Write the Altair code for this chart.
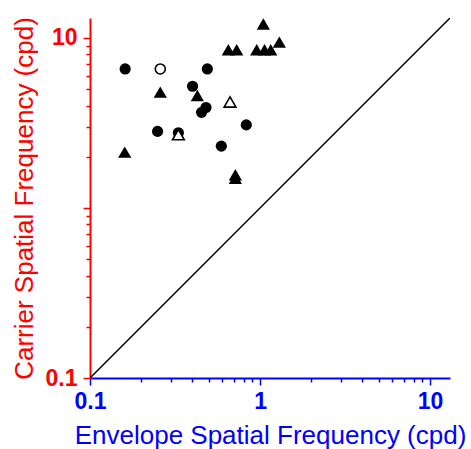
import altair as alt
import pandas as pd

# Filled circles (envelope SF, carrier SF), cpd
fc_x = [0.161, 0.490, 0.401, 0.481, 0.453, 0.830, 0.2496, 0.331, 0.592]
fc_y = [6.57, 6.57, 5.20, 3.90, 3.65, 3.08, 2.82, 2.77, 2.31]

# Open circles
oc_x = [0.259]
oc_y = [6.57]

# Filled triangles
ft_x = [0.259, 0.428, 0.160, 0.716, 0.716, 1.046, 0.651, 0.729, 0.956, 1.063, 1.156, 1.299]
ft_y = [4.80, 4.59, 2.13, 1.567, 1.495, 12.09, 8.53, 8.53, 8.53, 8.53, 8.53, 9.45]

# Open triangles
ot_x = [0.666, 0.331]
ot_y = [4.20, 2.70]

# Identity line and axis ranges
diag_vals = [0.1, 13.1]
major_ticks = [0.1, 1, 10]
minor_ticks = [0.2, 0.3, 0.4, 0.5, 0.6, 0.7, 0.8, 0.9, 2, 3, 4, 5, 6, 7, 8, 9]

RED = "#ff0000"
BLUE = "#0000ff"
FONT = "Liberation Sans"

xscale = alt.Scale(type="log", domain=diag_vals, nice=False)
yscale = alt.Scale(type="log", domain=diag_vals, nice=False)

x_major = alt.Axis(
    orient="bottom", values=major_ticks, format="~g", grid=False,
    tickSize=7, tickWidth=1.5, tickColor=BLUE,
    domainColor=BLUE, domainWidth=2,
    labelColor=BLUE, labelFont=FONT, labelFontSize=23, labelFontWeight="bold",
    labelPadding=5, labelFlush=False, labelOverlap=False,
    title="Envelope Spatial Frequency (cpd)", titleColor=BLUE, titleFont=FONT,
    titleFontSize=26, titleFontWeight="normal", titleX=180, titleY=65,
    titleBaseline="alphabetic", titleAlign="center",
)
x_minor = alt.Axis(
    orient="bottom", values=minor_ticks, grid=False, labels=False, domain=False,
    tickSize=4, tickWidth=1.5, tickColor=BLUE, title=None,
)
y_major = alt.Axis(
    orient="left", values=major_ticks, format="~g", grid=False,
    labelExpr="datum.value == 1 ? '' : datum.label",
    tickSize=7, tickWidth=1.5, tickColor=RED,
    domainColor=RED, domainWidth=2,
    labelColor=RED, labelFont=FONT, labelFontSize=23, labelFontWeight="bold",
    labelPadding=6, labelFlush=False, labelOverlap=False,
    title="Carrier Spatial Frequency (cpd)", titleColor=RED, titleFont=FONT,
    titleFontSize=26, titleFontWeight="normal", titleX=-58, titleY=180,
    titleAngle=270, titleBaseline="alphabetic", titleAlign="center",
)
y_minor = alt.Axis(
    orient="left", values=minor_ticks, grid=False, labels=False, domain=False,
    tickSize=4, tickWidth=1.5, tickColor=RED, title=None,
)

diag_df = pd.DataFrame({"x": diag_vals, "y": diag_vals})
fc_df = pd.DataFrame({"x": fc_x, "y": fc_y})
oc_df = pd.DataFrame({"x": oc_x, "y": oc_y})
ft_df = pd.DataFrame({"x": ft_x, "y": ft_y})
ot_df = pd.DataFrame({"x": ot_x, "y": ot_y})

diag = alt.Chart(diag_df).mark_line(color="black", strokeWidth=1.5, clip=True).encode(
    x=alt.X("x:Q", scale=xscale, axis=x_major),
    y=alt.Y("y:Q", scale=yscale, axis=y_major),
)

fc = alt.Chart(fc_df).mark_point(
    shape="circle", filled=True, color="black", size=125, opacity=1
).encode(
    x=alt.X("x:Q", scale=xscale, axis=x_minor),
    y=alt.Y("y:Q", scale=yscale, axis=y_minor),
)

ft = alt.Chart(ft_df).mark_point(
    shape="triangle-up", filled=True, color="black", size=175, opacity=1
).encode(
    x=alt.X("x:Q", scale=xscale, axis=None),
    y=alt.Y("y:Q", scale=yscale, axis=None),
)

oc = alt.Chart(oc_df).mark_point(
    shape="circle", fill="white", stroke="black", strokeWidth=1.6, size=100, opacity=1
).encode(
    x=alt.X("x:Q", scale=xscale, axis=None),
    y=alt.Y("y:Q", scale=yscale, axis=None),
)

ot = alt.Chart(ot_df).mark_point(
    shape="triangle-up", fill="white", stroke="black", strokeWidth=1.6, size=140, opacity=1
).encode(
    x=alt.X("x:Q", scale=xscale, axis=None),
    y=alt.Y("y:Q", scale=yscale, axis=None),
)

chart = alt.layer(diag, fc, ft, oc, ot).resolve_axis(
    x="independent", y="independent"
).properties(
    width=360, height=360,
    autosize=alt.AutoSizeParams(type="none"),
    padding={"left": 90, "top": 18, "right": 21, "bottom": 71},
    background="white",
).configure_view(stroke=None)

chart.save("out.html", embed_options={"renderer": "svg", "actions": False})
